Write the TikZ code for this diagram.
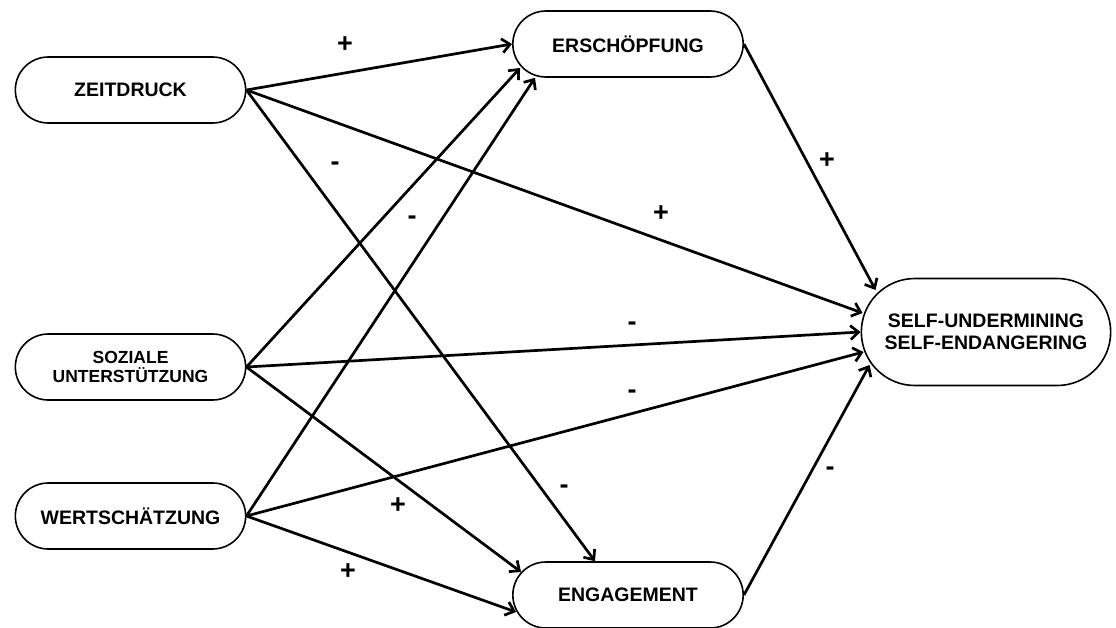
\documentclass[tikz,border=0pt]{standalone}
\usepackage{fontspec}
\setmainfont{Liberation Sans}
\usepackage{tikz}
\usetikzlibrary{shapes.misc, arrows.meta, positioning, calc}

\begin{document}
\begin{tikzpicture}[
    x=1pt, y=-1pt,
    >={Straight Barb[length=8pt, width=14pt]},
    factor/.style={rounded rectangle, draw=black, line width=1.6pt,
                   minimum width=237pt, minimum height=66pt, align=center,
                   font=\fontsize{19.5}{22}\selectfont\bfseries},
    effect/.style={->, line width=2.7pt},
    sign/.style={font=\fontsize{27}{27}\selectfont\bfseries, inner sep=1pt}
]
\useasboundingbox (0,0) rectangle (1116,627);

\node[factor] (zeit) at (130.5,90) {ZEITDRUCK};
\node[factor, font=\fontsize{17.5}{19}\selectfont\bfseries] (sozial) at (130.5,367) {SOZIALE\\UNTERSTÜTZUNG};
\node[factor] (wert) at (130.5,516) {WERTSCHÄTZUNG};
\node[factor] (ersch) at (628,44) {ERSCHÖPFUNG};
\node[factor] (eng) at (628,595) {ENGAGEMENT};
\node[factor, minimum width=256pt, minimum height=107pt] (self) at (986,332) {SELF-UNDERMINING\\SELF-ENDANGERING};

% Zeitdruck
\draw[effect] (zeit.east) -- (ersch.west);
\draw[effect] (zeit.east) -- ([xshift=2pt, yshift=19pt]self.west);
\draw[effect] (zeit.east) -- ([xshift=-33pt]eng.north);
% soziale Unterstuetzung
\draw[effect] (sozial.east) -- ([xshift=8pt, yshift=-24pt]ersch.west);
\draw[effect] (sozial.east) -- (self.west);
\draw[effect] (sozial.east) -- ([xshift=9pt, yshift=23pt]eng.west);
% Wertschaetzung
\draw[effect] (wert.east) -- ([xshift=-93pt]ersch.south);
\draw[effect] (wert.east) -- ([xshift=3pt, yshift=-20pt]self.west);
\draw[effect] (wert.east) -- ([xshift=4pt, yshift=-17pt]eng.west);
% Mediatoren
\draw[effect] (ersch.east) -- ([xshift=15pt, yshift=42pt]self.west);
\draw[effect] (eng.east) -- ([xshift=9pt, yshift=-33pt]self.west);

\node[sign] (s1) at (345,45) {+};
\node[sign] (s2) at (335,166) {-};
\node[sign] (s3) at (412,220) {-};
\node[sign] (s4) at (661,214) {+};
\node[sign] (s5) at (827,161) {+};
\node[sign] (s6) at (632,326) {-};
\node[sign] (s7) at (632,394) {-};
\node[sign] (s8) at (398,506) {+};
\node[sign] (s9) at (564,489) {-};
\node[sign] (s10) at (830,471) {-};
\node[sign] (s11) at (348,572) {+};
\end{tikzpicture}
\end{document}
